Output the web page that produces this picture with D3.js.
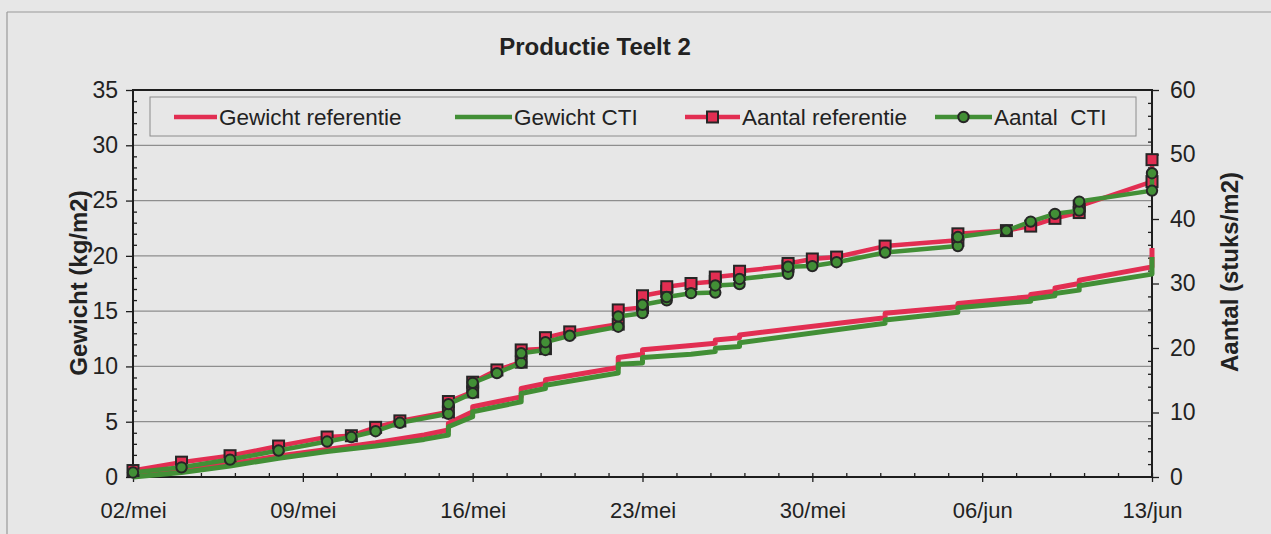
<!DOCTYPE html>
<html>
<head>
<meta charset="utf-8">
<script src="https://cdn.jsdelivr.net/npm/d3@7"></script>
<style>
  html, body { margin: 0; padding: 0; background: #e7e7e7; }
  svg { display: block; font-family: "Liberation Sans", Arial, Helvetica, sans-serif; }
</style>
</head>
<body>
<svg id="chart" width="1271" height="534"></svg>
<script>
// ---- data -------------------------------------------------------------
// x values are days counted from 02/mei (02/mei = 0, 13/jun = 42)
const xTickDays   = [0, 7, 14, 21, 28, 35, 42];
const xTickLabels = ["02/mei", "09/mei", "16/mei", "23/mei", "30/mei", "06/jun", "13/jun"];
const leftTicks   = [0, 5, 10, 15, 20, 25, 30, 35];
const rightTicks  = [0, 10, 20, 30, 40, 50, 60];

const seriesNames = ["Gewicht referentie", "Gewicht CTI", "Aantal referentie", "Aantal  CTI"];

// cumulative weight (kg/m2), left axis; repeated days mark a harvest step
const gewichtDays       = [0, 2, 4, 6, 8, 10, 12, 13, 13, 14, 14, 16, 16, 17, 17, 20, 20, 21, 21, 23, 24, 24, 25, 25, 31, 31, 34, 34, 37, 37, 38, 38, 39, 39, 42, 42];
const gewichtReferentie = [0.1, 0.6, 1.2, 1.9, 2.5, 3.1, 3.8, 4.25, 4.85, 5.9, 6.35, 7.25, 8.0, 8.45, 8.8, 9.9, 10.8, 11.1, 11.5, 11.9, 12.1, 12.4, 12.6, 12.85, 14.4, 14.8, 15.4, 15.7, 16.3, 16.5, 16.8, 17.1, 17.5, 17.8, 19.0, 20.7];
const gewichtCTI        = [0.0, 0.4, 1.0, 1.7, 2.3, 2.8, 3.4, 3.8, 4.55, 5.45, 5.9, 6.8, 7.55, 8.0, 8.3, 9.4, 10.2, 10.3, 10.8, 11.1, 11.35, 11.65, 11.8, 12.15, 13.9, 14.2, 14.9, 15.3, 15.9, 16.1, 16.4, 16.6, 16.9, 17.3, 18.35, 19.9];

// cumulative count (stuks/m2), right axis
const aantalDays        = [0, 2, 4, 6, 8, 9, 10, 11, 13, 13, 14, 14, 15, 16, 16, 17, 17, 18, 20, 20, 21, 21, 22, 22, 23, 24, 24, 25, 25, 27, 27, 28, 29, 31, 34, 34, 36, 37, 38, 39, 39, 42, 42];
const aantalReferentie  = [1.0, 2.3, 3.3, 4.8, 6.2, 6.4, 7.7, 8.7, 10.1, 11.7, 13.2, 14.7, 16.6, 17.8, 19.7, 19.9, 21.6, 22.5, 23.7, 25.9, 26.3, 28.1, 28.8, 29.5, 30.0, 30.3, 31.0, 31.4, 31.9, 32.7, 33.1, 33.8, 34.1, 35.8, 36.7, 37.7, 38.2, 38.9, 40.1, 41.0, 42.0, 45.8, 49.2];
const aantalCTI         = [0.7, 1.5, 2.7, 4.1, 5.5, 6.2, 7.1, 8.4, 9.8, 11.3, 13.0, 14.6, 16.1, 17.7, 19.2, 19.7, 20.9, 21.9, 23.3, 24.9, 25.4, 26.7, 27.4, 27.9, 28.5, 28.6, 29.7, 29.9, 30.7, 31.5, 32.6, 32.7, 33.3, 34.8, 35.8, 37.2, 38.2, 39.6, 40.8, 41.3, 42.7, 44.4, 47.1];

// ---- layout & styles ----------------------------------------------------
const plot = { left: 133, right: 1152, top: 90, bottom: 477 };
const RED = "#e22e52", GREEN = "#428f36", MARK_STROKE = "#262626";
const GRID = "#8e8e8e", AXIS = "#1e1e1e", TEXT = "#222";

const svg = d3.select("#chart");

const x  = d3.scaleLinear().domain([0, 42]).range([plot.left, plot.right]);
const yL = d3.scaleLinear().domain([0, 35]).range([plot.bottom, plot.top]);
const yR = d3.scaleLinear().domain([0, 60]).range([plot.bottom, plot.top]);

// chart frame edges
svg.append("line").attr("x1", 7).attr("x2", 7).attr("y1", 12).attr("y2", 534)
  .attr("stroke", "#9a9a9a").attr("stroke-width", 1.2);
svg.append("line").attr("x1", 7).attr("x2", 1271).attr("y1", 12).attr("y2", 12)
  .attr("stroke", "#9a9a9a").attr("stroke-width", 1.2);

// title
svg.append("text").attr("x", 595).attr("y", 55).attr("text-anchor", "middle")
  .attr("font-size", 24).attr("font-weight", "bold").attr("fill", TEXT)
  .text("Productie Teelt 2");

// gridlines
svg.append("g").selectAll("line").data(leftTicks.filter(d => d > 0 && d < 35)).join("line")
  .attr("x1", plot.left).attr("x2", plot.right)
  .attr("y1", d => yL(d)).attr("y2", d => yL(d))
  .attr("stroke", GRID).attr("stroke-width", 1.2);

function styleAxis(g, size) {
  g.select(".domain").remove();
  g.selectAll(".tick line").attr("stroke", AXIS).attr("stroke-width", 1.3);
  g.selectAll(".tick text").attr("font-size", size).attr("fill", TEXT);
}

// left axis: major ticks outside, minor ticks inside
svg.append("g").attr("transform", `translate(${plot.left},0)`)
  .call(d3.axisLeft(yL).tickValues(leftTicks).tickSize(7).tickPadding(8).tickFormat(d3.format("d")))
  .call(g => styleAxis(g, 23));
svg.append("g").attr("transform", `translate(${plot.left},0)`)
  .call(d3.axisRight(yL).tickValues(d3.range(1, 35).filter(d => d % 5)).tickSize(4).tickFormat(""))
  .call(g => styleAxis(g, 0));

// right axis
svg.append("g").attr("transform", `translate(${plot.right},0)`)
  .call(d3.axisRight(yR).tickValues(rightTicks).tickSize(7).tickPadding(11).tickFormat(d3.format("d")))
  .call(g => styleAxis(g, 23));
svg.append("g").attr("transform", `translate(${plot.right},0)`)
  .call(d3.axisLeft(yR).tickValues(d3.range(2, 60, 2).filter(d => d % 10)).tickSize(4).tickFormat(""))
  .call(g => styleAxis(g, 0));

// bottom axis
svg.append("g").attr("transform", `translate(0,${plot.bottom})`)
  .call(d3.axisBottom(x).tickValues(xTickDays).tickSize(5).tickPadding(20)
        .tickFormat((d, i) => xTickLabels[i]))
  .call(g => styleAxis(g, 22));
svg.append("g").attr("transform", `translate(0,${plot.bottom})`)
  .call(d3.axisTop(x).tickValues(d3.range(1.4, 42, 1.4)).tickSize(4).tickFormat(""))
  .call(g => styleAxis(g, 0));

// plot border
svg.append("rect").attr("x", plot.left).attr("y", plot.top)
  .attr("width", plot.right - plot.left).attr("height", plot.bottom - plot.top)
  .attr("fill", "none").attr("stroke", AXIS).attr("stroke-width", 2);

// axis titles
svg.append("text").attr("transform", "translate(87,283) rotate(-90)")
  .attr("text-anchor", "middle").attr("font-size", 24).attr("font-weight", "bold").attr("fill", TEXT)
  .text("Gewicht (kg/m2)");
svg.append("text").attr("transform", "translate(1238,272) rotate(-90)")
  .attr("text-anchor", "middle").attr("font-size", 24).attr("font-weight", "bold").attr("fill", TEXT)
  .text("Aantal (stuks/m2)");

// ---- series --------------------------------------------------------------
const zip = (days, vals) => days.map((d, i) => ({ d, v: vals[i] }));

function drawLine(points, yScale, color, width) {
  svg.append("path").datum(points)
    .attr("d", d3.line().x(p => x(p.d)).y(p => yScale(p.v)))
    .attr("fill", "none").attr("stroke", color).attr("stroke-width", width)
    .attr("stroke-linejoin", "round");
}

const gRef = zip(gewichtDays, gewichtReferentie);
const gCti = zip(gewichtDays, gewichtCTI);
const aRef = zip(aantalDays, aantalReferentie);
const aCti = zip(aantalDays, aantalCTI);

drawLine(gRef, yL, RED, 5);
drawLine(gCti, yL, GREEN, 5);

drawLine(aRef, yR, RED, 4.5);
svg.append("g").selectAll("rect").data(aRef).join("rect")
  .attr("x", p => x(p.d) - 5.5).attr("y", p => yR(p.v) - 5.5)
  .attr("width", 11).attr("height", 11)
  .attr("fill", RED).attr("stroke", MARK_STROKE).attr("stroke-width", 2);

drawLine(aCti, yR, GREEN, 4.5);
svg.append("g").selectAll("circle").data(aCti).join("circle")
  .attr("cx", p => x(p.d)).attr("cy", p => yR(p.v)).attr("r", 5.2)
  .attr("fill", GREEN).attr("stroke", MARK_STROKE).attr("stroke-width", 2);

// ---- legend --------------------------------------------------------------
svg.append("rect").attr("x", 150).attr("y", 97).attr("width", 986).attr("height", 39)
  .attr("fill", "none").attr("stroke", "#8c8c8c").attr("stroke-width", 1);

const legendItems = [
  { name: seriesNames[0], color: RED,   marker: null,     x0: 174, x1: 217 },
  { name: seriesNames[1], color: GREEN, marker: null,     x0: 455, x1: 512 },
  { name: seriesNames[2], color: RED,   marker: "square", x0: 685, x1: 740 },
  { name: seriesNames[3], color: GREEN, marker: "circle", x0: 935, x1: 992 }
];
const ly = 117;
const lg = svg.append("g").selectAll("g").data(legendItems).join("g");
lg.append("line").attr("x1", d => d.x0).attr("x2", d => d.x1)
  .attr("y1", ly).attr("y2", ly).attr("stroke", d => d.color).attr("stroke-width", 4.5);
lg.filter(d => d.marker === "square").append("rect")
  .attr("x", d => (d.x0 + d.x1) / 2 - 5.5).attr("y", ly - 5.5).attr("width", 11).attr("height", 11)
  .attr("fill", RED).attr("stroke", MARK_STROKE).attr("stroke-width", 2);
lg.filter(d => d.marker === "circle").append("circle")
  .attr("cx", d => (d.x0 + d.x1) / 2).attr("cy", ly).attr("r", 5.2)
  .attr("fill", GREEN).attr("stroke", MARK_STROKE).attr("stroke-width", 2);
lg.append("text").attr("x", d => d.x1 + 2).attr("y", ly + 8)
  .attr("font-size", 22.5).attr("fill", TEXT)
  .style("white-space", "pre")
  .text(d => d.name);
</script>
</body>
</html>
